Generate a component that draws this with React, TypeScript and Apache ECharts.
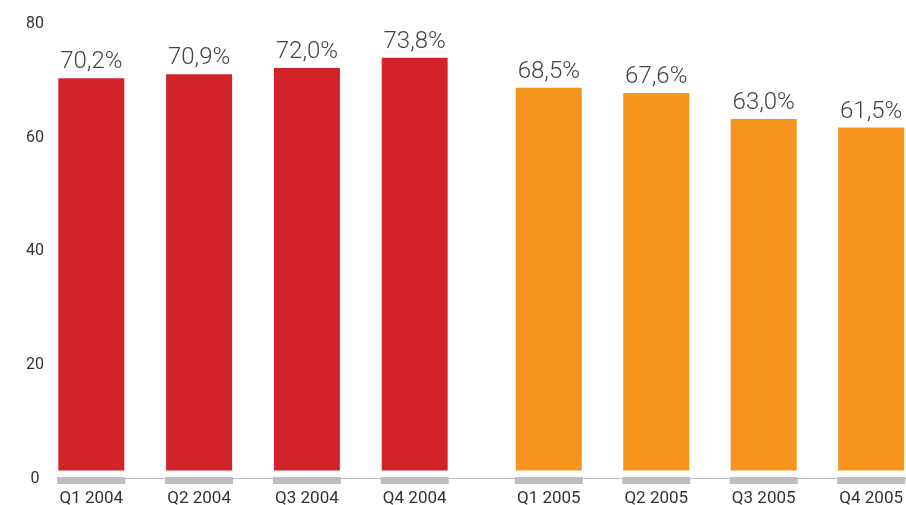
import React, { useEffect, useRef } from "react";
import * as echarts from "echarts";

const categories2004 = ["Q1 2004", "Q2 2004", "Q3 2004", "Q4 2004"];
const categories2005 = ["Q1 2005", "Q2 2005", "Q3 2005", "Q4 2005"];
const values2004 = [70.2, 70.9, 72.0, 73.8];
const values2005 = [68.5, 67.6, 63.0, 61.5];
const yTicks = { min: 0, max: 80, interval: 20 };

const RED = "#D2232A";
const ORANGE = "#F7941E";
const GREY = "#BDBEC1";
const FONT = "Roboto";

const fmt = (v: number) => v.toFixed(1).replace(".", ",") + "%";

export default function App() {
  const ref = useRef<HTMLDivElement>(null);
  useEffect(() => {
    if (!ref.current) return;
    const chart = echarts.init(ref.current, undefined, { renderer: "svg" });

    const baseRender = (params: any, api: any) => {
      const x = api.value(0);
      const base = api.coord([x, 0]);
      return {
        type: "group",
        children: [
          {
            type: "rect",
            shape: { x: base[0] - 34, y: base[1] - 6.5, width: 68, height: 6.5 },
            style: { fill: "#ffffff" },
          },
          {
            type: "rect",
            shape: { x: base[0] - 34, y: base[1], width: 68, height: 7 },
            style: { fill: GREY },
          },
        ],
      };
    };

    const barSeries = (idx: number, data: number[], color: string) => ({
      type: "bar",
      xAxisIndex: idx,
      yAxisIndex: idx,
      data,
      barWidth: 66,
      clip: false,
      itemStyle: { color },
      z: 2,
      label: {
        show: true,
        position: "top",
        distance: 6,
        formatter: (p: any) => fmt(p.value),
        fontFamily: FONT,
        fontSize: 24,
        fontWeight: 300,
        color: "#444444",
      },
    });

    const customSeries = (idx: number, cats: string[]) => ({
      type: "custom",
      xAxisIndex: idx,
      yAxisIndex: idx,
      clip: false,
      z: 5,
      silent: true,
      data: cats.map((c) => [c, 0]),
      renderItem: baseRender,
    });

    const xAxisCommon = {
      type: "category",
      boundaryGap: false,
      axisLine: { show: false },
      axisTick: { show: false },
      axisLabel: {
        fontFamily: FONT,
        fontSize: 17,
        color: "#333333",
        margin: 11,
      },
    };

    const yAxisCommon = {
      type: "value",
      min: yTicks.min,
      max: yTicks.max,
      interval: yTicks.interval,
      splitLine: { show: false },
      axisLine: { show: false },
      axisTick: { show: false },
    };

    chart.setOption({
      animation: false,
      grid: [
        { left: 91.3, width: 323.4, top: 22.5, bottom: 27, containLabel: false },
        { left: 548.8, width: 324, top: 22.5, bottom: 27, containLabel: false },
      ],
      xAxis: [
        { ...xAxisCommon, gridIndex: 0, data: categories2004 },
        { ...xAxisCommon, gridIndex: 1, data: categories2005 },
      ],
      yAxis: [
        {
          ...yAxisCommon,
          gridIndex: 0,
          axisLabel: {
            fontFamily: FONT,
            fontSize: 16,
            color: "#333333",
            align: "center",
            margin: 56.3,
          },
        },
        { ...yAxisCommon, gridIndex: 1, axisLabel: { show: false } },
      ],
      graphic: [
        {
          type: "line",
          shape: { x1: 57, y1: 478.5, x2: 906, y2: 478.5 },
          style: { stroke: GREY, lineWidth: 1 },
          z: 1,
        },
      ],
      series: [
        barSeries(0, values2004, RED),
        barSeries(1, values2005, ORANGE),
        customSeries(0, categories2004),
        customSeries(1, categories2005),
      ],
    });

    return () => chart.dispose();
  }, []);

  return (
    <div
      ref={ref}
      style={{ position: "fixed", left: 0, top: 0, width: 906, height: 505 }}
    />
  );
}
